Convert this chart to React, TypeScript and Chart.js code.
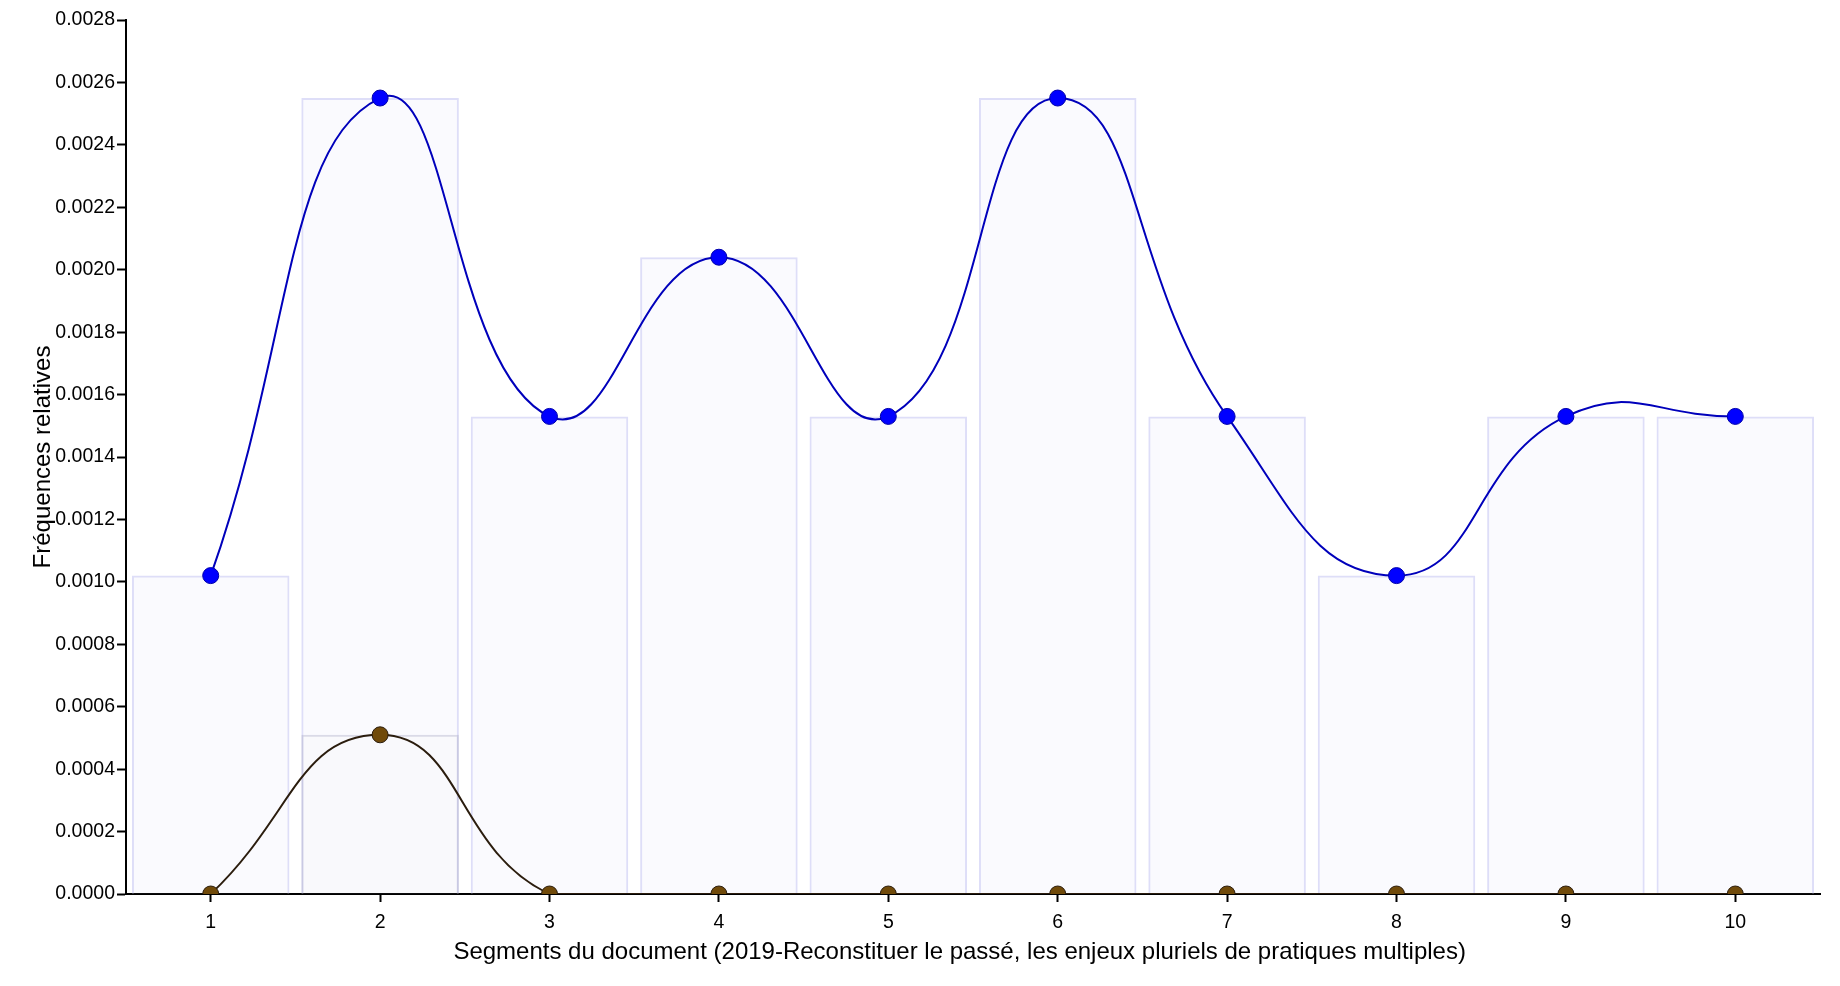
import React, { useEffect, useRef } from "react";
import { Chart, registerables } from "chart.js";

Chart.register(...registerables);

const categories = ["1", "2", "3", "4", "5", "6", "7", "8", "9", "10"];
const blueValues = [0.00102, 0.00255, 0.00153, 0.00204, 0.00153, 0.00255, 0.00153, 0.00102, 0.00153, 0.00153];
const brownValues = [0, 0.00051, 0, 0, 0, 0, 0, 0, 0, 0];
const yMin = 0;
const yMax = 0.0028;
const yStep = 0.0002;
const xTitle = "Segments du document (2019-Reconstituer le passé, les enjeux pluriels de pratiques multiples)";
const yTitle = "Fréquences relatives";

const FONT = "'Liberation Sans', Arial, Helvetica, sans-serif";

export default function App() {
  const ref = useRef<HTMLCanvasElement | null>(null);

  useEffect(() => {
    if (!ref.current) return;
    const chart = new Chart(ref.current, {
      type: "bar",
      data: {
        labels: categories,
        datasets: [
          {
            type: "line",
            data: blueValues,
            borderColor: "#0000bb",
            borderWidth: 2,
            backgroundColor: "#0000ff",
            pointBackgroundColor: "#0000ff",
            pointBorderColor: "#0000aa",
            pointBorderWidth: 1,
            pointRadius: 8,
            tension: 0.48,
            fill: false,
            order: 1,
          } as any,
          {
            type: "line",
            data: brownValues,
            borderColor: "#2b1d0e",
            borderWidth: 2,
            backgroundColor: "#704a0a",
            pointBackgroundColor: "#704a0a",
            pointBorderColor: "#2b1d0e",
            pointBorderWidth: 1,
            pointRadius: 8,
            tension: 0.48,
            fill: false,
            order: 2,
          } as any,
          {
            type: "bar",
            data: brownValues,
            backgroundColor: "rgba(200,200,210,0.04)",
            borderColor: "rgba(170,170,195,0.4)",
            borderWidth: 2,
            barPercentage: 0.93,
            categoryPercentage: 1,
            grouped: false,
            order: 3,
          } as any,
          {
            type: "bar",
            data: blueValues,
            backgroundColor: "rgba(230,230,250,0.22)",
            borderColor: "rgba(222,222,248,1)",
            borderWidth: 2,
            barPercentage: 0.93,
            categoryPercentage: 1,
            grouped: false,
            order: 4,
          } as any,
        ],
      },
      options: {
        animation: false,
        responsive: true,
        maintainAspectRatio: false,
        layout: { padding: { top: 20, right: 20, left: 0, bottom: 0 } },
        plugins: {
          legend: { display: false },
          tooltip: { enabled: false },
        },
        scales: {
          x: {
            type: "category",
            offset: true,
            grid: {
              display: true,
              drawOnChartArea: false,
              drawTicks: true,
              tickLength: 8,
              tickColor: "#000",
              tickWidth: 2,
              offset: false,
            },
            border: { display: true, color: "#000", width: 2 },
            ticks: {
              color: "#000",
              font: { family: FONT, size: 19.5 },
              padding: 9,
              maxRotation: 0,
            },
            title: {
              display: true,
              text: xTitle + "    ",
              color: "#000",
              font: { family: FONT, size: 24, lineHeight: 1.2 },
              padding: { top: 0, bottom: 19 },
            },
            afterFit: (scale: any) => {
              scale.height = 92;
            },
          },
          y: {
            type: "linear",
            min: yMin,
            max: yMax,
            grid: {
              display: true,
              drawOnChartArea: false,
              drawTicks: true,
              tickLength: 9,
              tickColor: "#000",
              tickWidth: 2,
            },
            border: { display: true, color: "#000", width: 2 },
            ticks: {
              stepSize: yStep,
              color: "#000",
              font: { family: FONT, size: 19.5 },
              padding: 2,
              callback: (v: any) => Number(v).toFixed(4),
            },
            title: {
              display: true,
              text: yTitle,
              color: "#000",
              font: { family: FONT, size: 24, lineHeight: 1.2 },
              padding: { top: 28.5, bottom: 0 },
            },
            afterFit: (scale: any) => {
              scale.width = 126;
            },
          },
        },
      },
    });
    return () => chart.destroy();
  }, []);

  return (
    <div style={{ position: "absolute", left: 0, top: 0, width: 1840, height: 986 }}>
      <canvas ref={ref} />
    </div>
  );
}
